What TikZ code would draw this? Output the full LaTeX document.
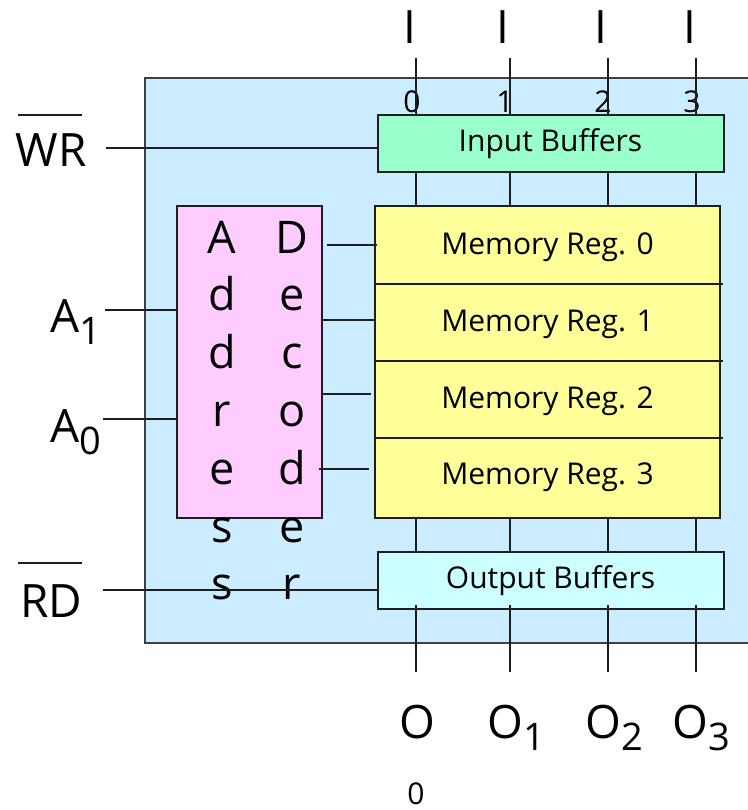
\documentclass[tikz,border=0pt]{standalone}
\usepackage{fontspec}
\setmainfont{Open Sans}
\usetikzlibrary{positioning,calc}

\definecolor{chipblue}{RGB}{204,236,255}
\definecolor{bufgreen}{RGB}{153,255,204}
\definecolor{regyellow}{RGB}{255,255,153}
\definecolor{decpink}{RGB}{255,204,255}
\definecolor{bufcyan}{RGB}{204,255,255}
\definecolor{wirecol}{RGB}{30,30,30}

\newcommand{\lowidx}[1]{\raisebox{-12pt}{\fontsize{38}{38}\selectfont #1}}

\begin{document}
\begin{tikzpicture}[x=1pt, y=-1pt,
    wire/.style={draw=wirecol, line width=1.8pt},
    box/.style={rectangle, draw=wirecol, line width=2pt, inner sep=0pt},
    buffer/.style={box, minimum width=346pt, minimum height=57pt, font=\fontsize{30}{32}\selectfont},
    reg/.style={rectangle, minimum width=345pt, minimum height=77pt, inner sep=0pt, font=\fontsize{30}{32}\selectfont},
    pin/.style={font=\fontsize{46}{50}\selectfont, inner sep=0pt, anchor=base},
    letter/.style={font=\fontsize{45}{50}\selectfont, inner sep=0pt, anchor=base},
    digit/.style={font=\fontsize{30}{30}\selectfont, inner sep=0pt, anchor=base}
]
\useasboundingbox (0,0) rectangle (747,810);

% chip outline
\fill[chipblue] (145,78) rectangle (760,643);
\draw[draw=wirecol!85, line width=1.5pt] (760,78) -| (145,643) -- (760,643);

% buffers and registers
\node[buffer, fill=bufgreen] (inbuf) at (550.5,143.5) {\raisebox{-3pt}{Input Buffers}};
\node[buffer, fill=bufcyan] (outbuf) at (550.5,580.5) {\raisebox{-3pt}{Output Buffers}};
\node[box, fill=regyellow, minimum width=345pt, minimum height=312pt] (mem) at (547.5,362) {};
\foreach \i/\y in {0/247,1/324,2/401,3/477}
    \node[reg] (reg\i) at (547.5,\y) {Memory Reg. \i};
\foreach \i in {0,1,2}
    \draw[wire] ([yshift=2pt]reg\i.south west) -- ([yshift=2pt,xshift=3pt]reg\i.south east);

% address decoder
\node[box, fill=decpink, minimum width=145pt, minimum height=312pt] (dec) at (249,362) {};
\foreach \c [count=\n from 0] in {A,d,d,r,e,s,s}
    \node[letter] (adr\n) at (222,253+57.8*\n) {\c};
\foreach \c [count=\n from 0] in {D,e,c,o,d,e,r}
    \node[letter] (dcd\n) at (292,253+57.8*\n) {\c};

% decoder select lines
\foreach \i/\y/\a/\b in {0/245/4/3, 1/320/0/0, 2/394/-1/-3, 3/469/-4/-5} {
    \coordinate (sel\i) at (0,\y);
    \draw[wire] ([xshift=\a pt]dec.east |- sel\i) -- ([xshift=\b pt]mem.west |- sel\i);
}

% data bus
\foreach \i/\x/\ix/\dx in {0/416/410/412, 1/510/503/505, 2/608/601/603, 3/696/690/692} {
    \coordinate (in\i) at (\x,58);
    \coordinate (out\i) at (\x,672);
    \node[pin] (ilab\i) at (\ix,44) {I};
    \node[digit] (idx\i) at (\dx,113) {\i};
    \draw[wire] (in\i) -- (in\i |- inbuf.north);
    \draw[wire] (in\i |- inbuf.south) -- (in\i |- mem.north);
    \draw[wire] (in\i |- mem.south) -- (in\i |- outbuf.north);
    \draw[wire] ([yshift=5pt]out\i |- outbuf.south) -- (out\i);
}

% outputs
\node[pin] (olab0) at (417,738) {O};
\node[digit] (oidx0) at (416,804) {0};
\node[pin, anchor=base west] (olab1) at (487,738) {O\lowidx{1}};
\node[pin, anchor=base west] (olab2) at (585,738) {O\lowidx{2}};
\node[pin, anchor=base west] (olab3) at (672,738) {O\lowidx{3}};

% control and address pins
\node[pin] (wr) at (51,167) {WR};
\draw[wire] ($(wr.base)+(-33,-52)$) -- ($(wr.base)+(31,-52)$);
\coordinate (wrtail) at (106,148);
\draw[wire] (wrtail) -- (wrtail -| inbuf.west);

\node[pin, anchor=base west] (a1) at (50,332) {A\lowidx{1}};
\coordinate (a1tail) at (105,310);
\draw[wire] (a1tail) -- (a1tail -| dec.west);

\node[pin, anchor=base west] (a0) at (50,442) {A\lowidx{0}};
\coordinate (a0tail) at (103,419);
\draw[wire] (a0tail) -- (a0tail -| dec.west);

\node[pin] (rd) at (51,617) {RD};
\draw[wire] ($(rd.base)+(-33,-54)$) -- ($(rd.base)+(31,-54)$);
\coordinate (rdtail) at (103,590);
\draw[wire] (rdtail) -- (rdtail -| outbuf.west);

\end{tikzpicture}
\end{document}
